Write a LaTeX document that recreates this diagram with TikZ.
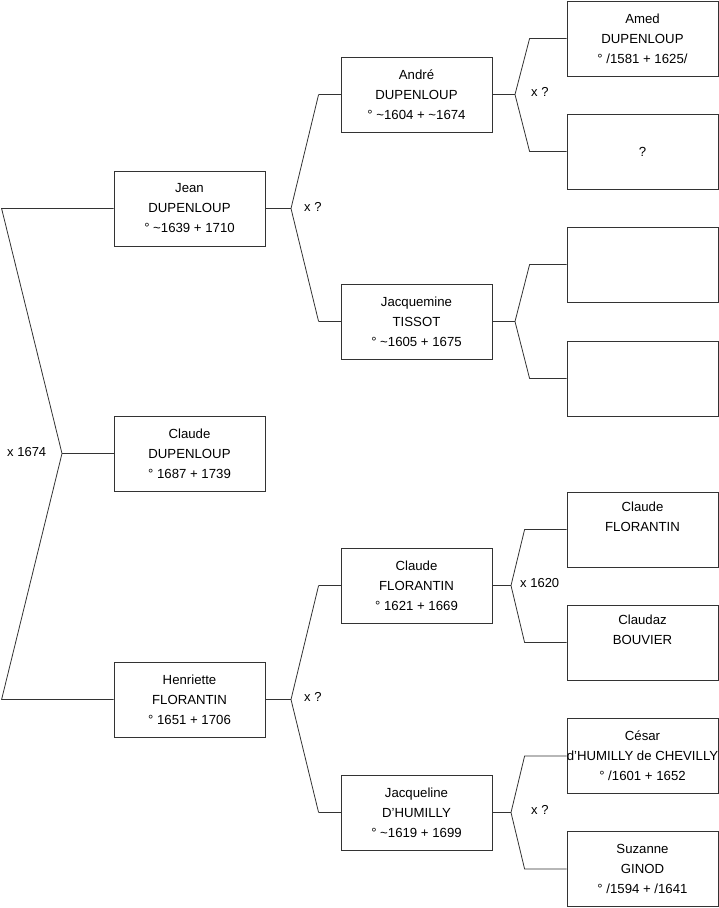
\documentclass[tikz,border=0pt]{standalone}
\usepackage{fontspec}
\setmainfont{Liberation Sans}
\begin{document}
\begin{tikzpicture}[x=1pt,y=-1pt,
  pbox/.style={draw=black!80,line width=0.8pt,minimum width=151pt,minimum height=75pt,
    inner sep=0pt,align=center,font=\fontsize{13.2}{20}\selectfont},
  link/.style={draw=black!80,line width=0.8pt},
  lbl/.style={inner sep=0pt,anchor=west,font=\fontsize{13}{15}\selectfont}]
\useasboundingbox (0,0) rectangle (719,908);
% generation 1
\node[pbox] (jean) at (189.5,208.5) {Jean\\DUPENLOUP\\° \textasciitilde1639 + 1710};
\node[pbox] (claude) at (189.5,453.5) {Claude\\DUPENLOUP\\° 1687 + 1739};
\node[pbox] (henriette) at (189.5,699.5) {Henriette\\FLORANTIN\\° 1651 + 1706};
% generation 2
\node[pbox] (andre) at (416.5,94.5) {André\\DUPENLOUP\\° \textasciitilde1604 + \textasciitilde1674};
\node[pbox] (jacquemine) at (416.5,321.5) {Jacquemine\\TISSOT\\° \textasciitilde1605 + 1675};
\node[pbox] (claudef) at (416.5,585.5) {Claude\\FLORANTIN\\° 1621 + 1669};
\node[pbox] (jacqueline) at (416.5,812.5) {Jacqueline\\D'HUMILLY\\° \textasciitilde1619 + 1699};
% generation 3
\node[pbox] (amed) at (642.5,38.5) {Amed\\DUPENLOUP\\° /1581 + 1625/};
\node[pbox] (unk) at (642.5,151.5) {?};
\node[pbox] (e1) at (642.5,264.5) {};
\node[pbox] (e2) at (642.5,378.5) {};
\node[pbox] (claudeff) at (642.5,529.5) {Claude\\FLORANTIN\\\strut};
\node[pbox] (claudaz) at (642.5,642.5) {Claudaz\\BOUVIER\\\strut};
\node[pbox] (cesar) at (642.5,756) {César\\\makebox[140pt][c]{d'HUMILLY de CHEVILLY}\\° /1601 + 1652};
\node[pbox] (suzanne) at (642.5,869) {Suzanne\\GINOD\\° /1594 + /1641};
% fork points
\coordinate (f0) at (62,453.5);
\coordinate (f1) at (291,208.5);
\coordinate (f2) at (291,699.5);
\coordinate (f3) at (515,94.5);
\coordinate (f4) at (515,321.5);
\coordinate (f5) at (511,585.5);
\coordinate (f6) at (511,812.5);
% connectors
\draw[link] (jean.west) -- ([xshift=-112pt]jean.west) -- (f0) -- ([xshift=-112pt]henriette.west) -- (henriette.west);
\draw[link] (f0) -- (claude.west);
\draw[link] (jean.east) -- (f1);
\draw[link] ([xshift=-22pt]andre.west) -- (f1) -- ([xshift=-22pt]jacquemine.west);
\draw[link] ([xshift=-22pt]andre.west) -- (andre.west);
\draw[link] ([xshift=-22pt]jacquemine.west) -- (jacquemine.west);
\draw[link] (henriette.east) -- (f2);
\draw[link] ([xshift=-22pt]claudef.west) -- (f2) -- ([xshift=-22pt]jacqueline.west);
\draw[link] ([xshift=-22pt]claudef.west) -- (claudef.west);
\draw[link] ([xshift=-22pt]jacqueline.west) -- (jacqueline.west);
\draw[link] (andre.east) -- (f3);
\draw[link] (amed.west) -- ([xshift=-37pt]amed.west) -- (f3) -- ([xshift=-37pt]unk.west) -- (unk.west);
\draw[link] (jacquemine.east) -- (f4);
\draw[link] (e1.west) -- ([xshift=-37pt]e1.west) -- (f4) -- ([xshift=-37pt]e2.west) -- (e2.west);
\draw[link] (claudef.east) -- (f5);
\draw[link] (claudeff.west) -- ([xshift=-42pt]claudeff.west) -- (f5) -- ([xshift=-42pt]claudaz.west) -- (claudaz.west);
\draw[link] (jacqueline.east) -- (f6);
\draw[link] (cesar.west) -- ([xshift=-42pt]cesar.west) -- (f6) -- ([xshift=-42pt]suzanne.west) -- (suzanne.west);
% marriage labels
\node[lbl] (m0) at (7,452) {x 1674};
\node[lbl] (m1) at (304,207) {x ?};
\node[lbl] (m2) at (304,697) {x ?};
\node[lbl] (m3) at (531,92) {x ?};
\node[lbl] (m5) at (520,583) {x 1620};
\node[lbl] (m6) at (531,810) {x ?};
\end{tikzpicture}
\end{document}
